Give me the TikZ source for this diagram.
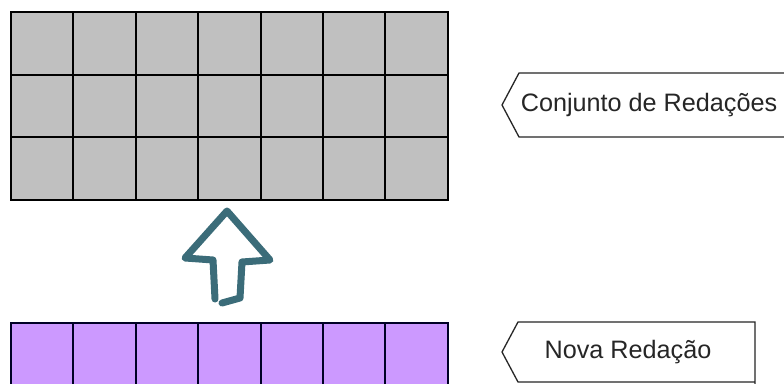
\documentclass[tikz,border=0pt]{standalone}
\usepackage{fontspec}
\setmainfont{Liberation Sans}
\definecolor{cellgray}{HTML}{C0C0C0}
\definecolor{cellpurple}{HTML}{CC99FF}
\definecolor{arrowteal}{HTML}{3B6C79}
\tikzset{
  graycell/.style={draw=black, line width=1.9pt, fill=cellgray, minimum width=62.4pt, minimum height=62.7pt, inner sep=0pt, anchor=north west},
  purplecell/.style={draw=black!85!blue, line width=1.9pt, fill=cellpurple, minimum width=62.4pt, minimum height=62pt, inner sep=0pt, anchor=north west},
  tagbox/.style={draw=black!85, line width=1.3pt, fill=white},
  tagtext/.style={font=\fontsize{25.2}{28}\selectfont, text=black!85, inner sep=0pt},
  bigarrow/.style={draw=arrowteal, line width=7pt, line join=round, line cap=round}
}
\begin{document}
\begin{tikzpicture}[x=1pt,y=-1pt]
\clip (0,0) rectangle (784,383);
\fill[white] (0,0) rectangle (784,383);
% gray grid 3x7
\foreach \r in {0,1,2}{
  \foreach \c in {0,...,6}{
    \node[graycell] (g\r\c) at ({10+62.4*\c},{11+62.7*\r}) {};
  }
}
% purple row
\foreach \c in {0,...,6}{
  \node[purplecell] (p\c) at ({10+62.4*\c},322) {};
}
% arrow
\draw[bigarrow] (222,303) -- (240,298) -- (242,262) -- (270,260) -- (227,211) -- (185,258) -- (213,260) -- (215,299);
% labels
\draw[tagbox] (800,73) -- (519,73) -- (502,105) -- (519,137) -- (800,137);
\node[tagtext] (conj) at (649,105) {Conjunto de Redações};
\draw[tagbox] (755,395) -- (755,322) -- (518,322) -- (502,352) -- (518,382) -- (755,382);
\node[tagtext] (nova) at (628,352) {Nova Redação};
\end{tikzpicture}
\end{document}
